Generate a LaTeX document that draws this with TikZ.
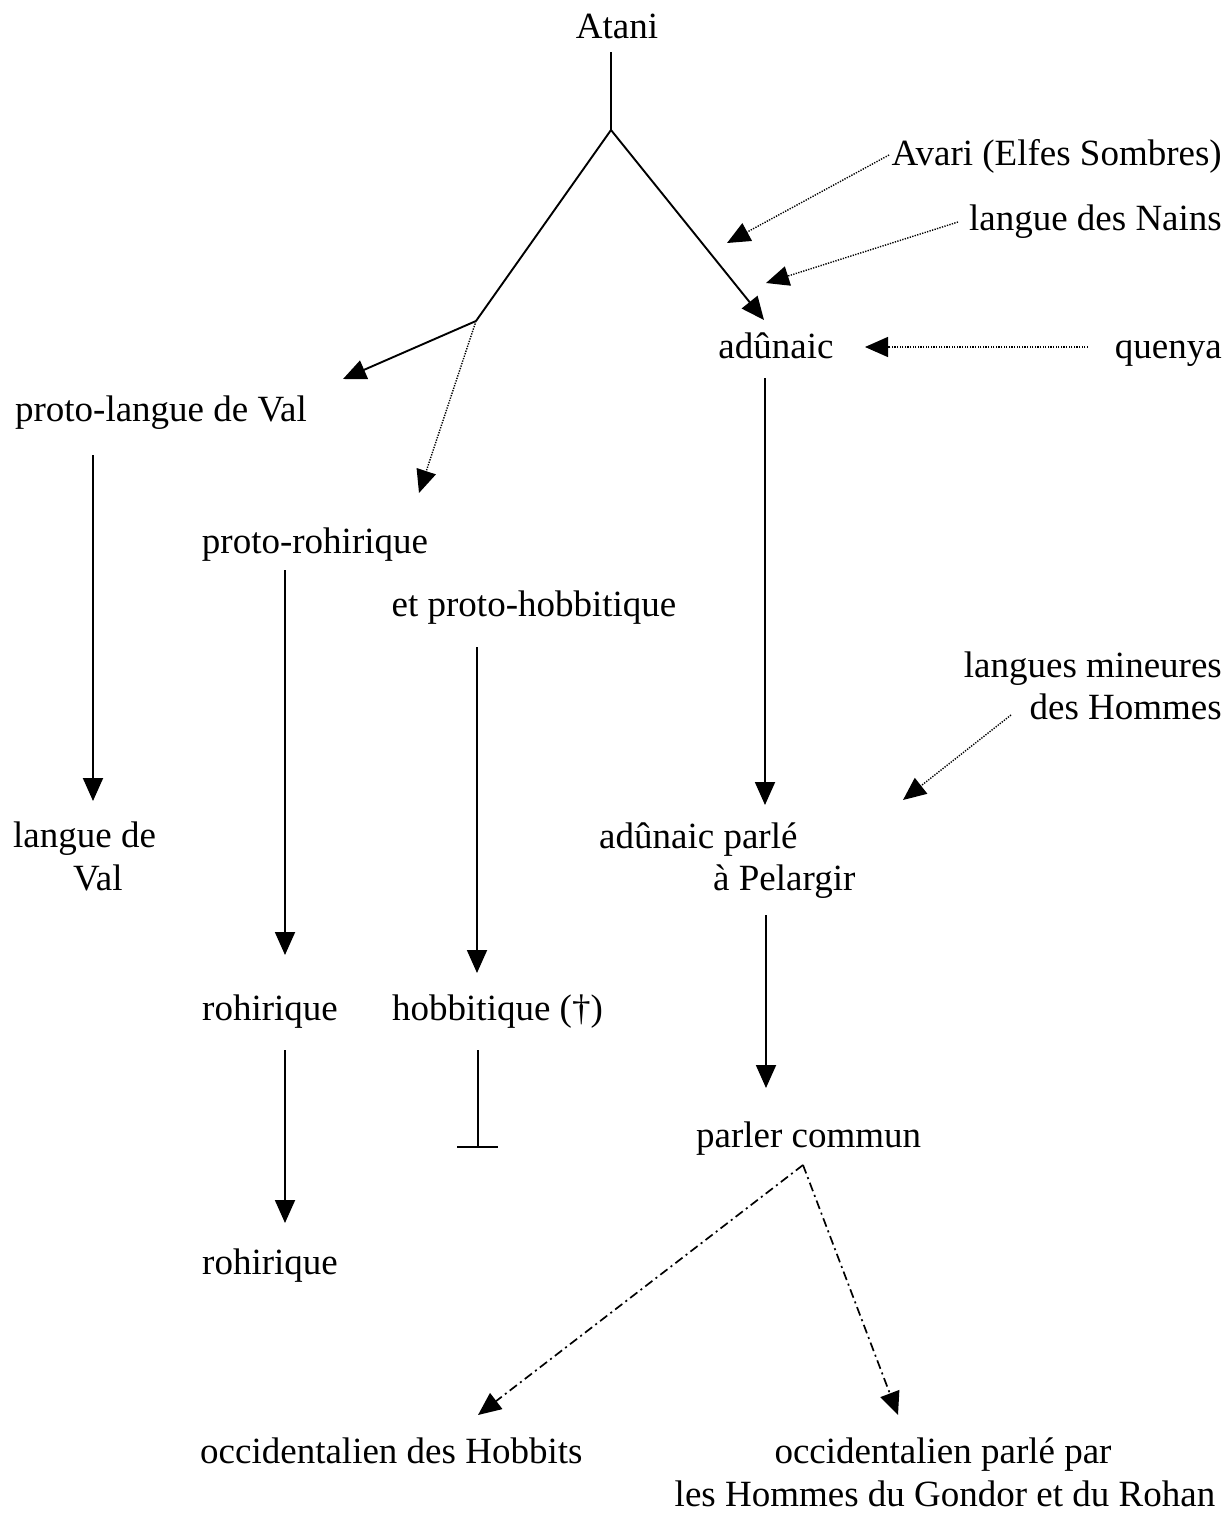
\documentclass[tikz,border=0pt]{standalone}
\usepackage{fontspec}
\setmainfont{Liberation Serif}
\usetikzlibrary{arrows.meta}
\begin{document}
\begin{tikzpicture}[x=1pt,y=-1pt,
  lbl/.style={inner sep=0pt,font=\fontsize{37}{42}\selectfont},
  solidln/.style={line width=1.9pt},
  arr/.style={solidln,-{Triangle[length=23pt,width=20pt]}},
  dotarr/.style={line width=1.4pt,dash pattern=on 1.3pt off 1.3pt,-{Triangle[length=23pt,width=20pt]}},
  dasharr/.style={line width=1.7pt,dash pattern=on 9pt off 4pt on 2pt off 4pt,-{Triangle[length=23pt,width=20pt]}}]
\useasboundingbox (0,0) rectangle (1229,1515);
% texts
\node[lbl,anchor=base] (atani) at (617,38) {Atani};
\node[lbl,anchor=base east] (avari) at (1222,165) {Avari (Elfes Sombres)};
\node[lbl,anchor=base east] (nains) at (1222,230) {langue des Nains};
\node[lbl,anchor=base] (adunaic) at (776,358) {adûnaic};
\node[lbl,anchor=base east] (quenya) at (1222,358) {quenya};
\node[lbl,anchor=base] (protoval) at (161,421) {proto-langue de Val};
\node[lbl,anchor=base] (protoroh) at (315,553) {proto-rohirique};
\node[lbl,anchor=base] (protohob) at (534,616) {et proto-hobbitique};
\node[lbl,anchor=base east] (mineures) at (1222,677) {langues mineures};
\node[lbl,anchor=base east] (hommes) at (1222,719) {des Hommes};
\node[lbl,anchor=base west] (languede) at (13,847) {langue de};
\node[lbl,anchor=base west] (val) at (73,890) {Val};
\node[lbl,anchor=base west] (adparle) at (599,848) {adûnaic parlé};
\node[lbl,anchor=base west] (pelargir) at (713,890) {à Pelargir};
\node[lbl,anchor=base west] (rohirique) at (202,1020) {rohirique};
\node[lbl,anchor=base west] (hobbitique) at (392,1020) {hobbitique (†)};
\node[lbl,anchor=base west] (parler) at (696,1147) {parler commun};
\node[lbl,anchor=base west] (rohirique2) at (202,1274) {rohirique};
\node[lbl,anchor=base west] (occhob) at (200,1463) {occidentalien des Hobbits};
\node[lbl,anchor=base] (occparle) at (943,1463) {occidentalien parlé par};
\node[lbl,anchor=base] (gondor) at (945,1506) {les Hommes du Gondor et du Rohan};
% coordinates
\coordinate (a0) at (611,52);
\coordinate (a1) at (611,130);
\coordinate (b1) at (476,321);
\coordinate (adtip) at (764,320);
\coordinate (pvtip) at (343,379);
\coordinate (prtip) at (419,493);
\coordinate (avs) at (889,155);
\coordinate (avt) at (727,243);
\coordinate (nas) at (958,222);
\coordinate (nat) at (766,283);
\coordinate (qus) at (1088,347);
\coordinate (qut) at (865,347);
\coordinate (v0) at (93,455);
\coordinate (v1) at (93,801);
\coordinate (r0) at (285,570);
\coordinate (r1) at (285,955);
\coordinate (h0) at (477,647);
\coordinate (h1) at (477,973);
\coordinate (d0) at (765,378);
\coordinate (d1) at (765,805);
\coordinate (ms) at (1011,715);
\coordinate (mt) at (903,800);
\coordinate (p0) at (766,915);
\coordinate (p1) at (766,1088);
\coordinate (rr0) at (285,1050);
\coordinate (rr1) at (285,1223);
\coordinate (t0) at (478,1050);
\coordinate (t1) at (478,1147);
\coordinate (tl) at (457,1147);
\coordinate (tr) at (498,1147);
\coordinate (pc) at (803,1165);
\coordinate (oh) at (478,1415);
\coordinate (op) at (898,1415);
% connectors
\draw[solidln] (a0) -- (a1);
\draw[solidln] (a1) -- (b1);
\draw[arr] (a1) -- (adtip);
\draw[arr] (b1) -- (pvtip);
\draw[dotarr] (b1) -- (prtip);
\draw[dotarr] (avs) -- (avt);
\draw[dotarr] (nas) -- (nat);
\draw[dotarr] (qus) -- (qut);
\draw[arr] (v0) -- (v1);
\draw[arr] (r0) -- (r1);
\draw[arr] (h0) -- (h1);
\draw[arr] (d0) -- (d1);
\draw[dotarr] (ms) -- (mt);
\draw[arr] (p0) -- (p1);
\draw[arr] (rr0) -- (rr1);
\draw[solidln] (t0) -- (t1);
\draw[solidln] (tl) -- (tr);
\draw[dasharr] (pc) -- (oh);
\draw[dasharr] (pc) -- (op);
\end{tikzpicture}
\end{document}
